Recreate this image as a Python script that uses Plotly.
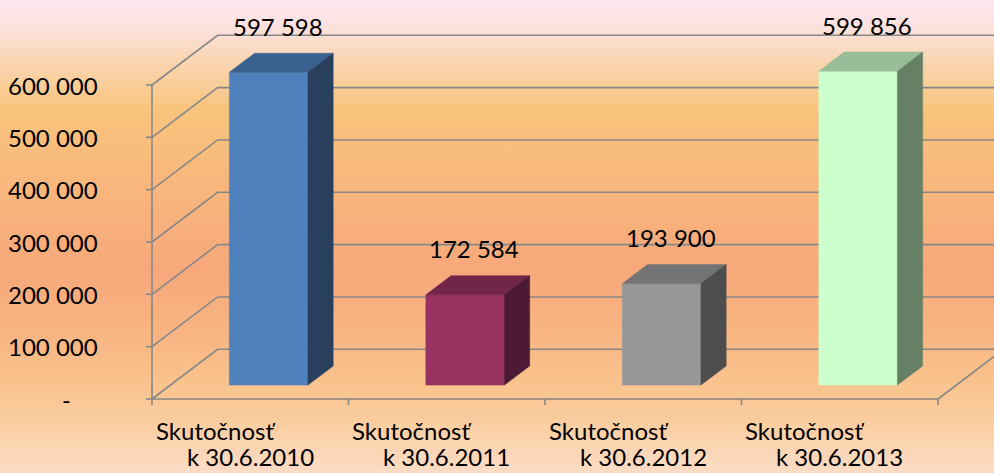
import plotly.graph_objects as go

# ---------------- data ----------------
categories_line1 = ["Skutočnosť", "Skutočnosť", "Skutočnosť", "Skutočnosť"]
categories_line2 = ["k 30.6.2010", "k 30.6.2011", "k 30.6.2012", "k 30.6.2013"]
values = [597598, 172584, 193900, 599856]
value_labels = ["597 598", "172 584", "193 900", "599 856"]
y_tick_vals = [0, 100000, 200000, 300000, 400000, 500000, 600000]
y_tick_text = ["-", "100 000", "200 000", "300 000", "400 000", "500 000", "600 000"]

front_colors = ["#4F81BD", "#983361", "#979797", "#CCFFCC"]
top_colors = ["#3B6190", "#72254A", "#737373", "#99BD99"]
side_colors = ["#283F5E", "#4D1A33", "#4D4D4D", "#668066"]

# ---------------- geometry (pixel calibration of the pseudo-3D scale) ----------------
W, H = 994, 473
PX_CAT = 196.5           # pixels per category
X0_PX = 152              # pixel of category boundary -0.5
Y0_PX = 399              # pixel of value 0 on front plane
K = 314 / 600000         # pixels per value unit
DX = 65.6 / PX_CAT       # depth shift (categories)
DY = 49.7 / K            # depth shift (value units)
D0, D1 = 0.28, 0.665     # bar depth span
HALF = 0.2               # half bar width in categories

x_range = [-0.5 - X0_PX / PX_CAT, -0.5 + (W - X0_PX) / PX_CAT]
y_range = [-(H - Y0_PX) / K, Y0_PX / K]


def proj(x, v, d):
    return x + d * DX, v + d * DY


FONT = "Lato, 'Open Sans', sans-serif"
FS = 24
fig = go.Figure()

# background gradient
bg_scale = [
    [0.0, "#FCDCC6"], [0.112, "#FACD9E"], [0.197, "#F9C28C"], [0.302, "#F8B482"],
    [0.429, "#F7A87B"], [0.577, "#F8B47C"], [0.767, "#F8C47C"], [0.873, "#FAD6B4"],
    [0.947, "#FCE2E0"], [1.0, "#FDE5F0"],
]
fig.add_trace(go.Scatter(
    x=[x_range[0], x_range[1], x_range[1], x_range[0], x_range[0]],
    y=[y_range[0], y_range[0], y_range[1], y_range[1], y_range[0]],
    mode="lines", line=dict(width=0), fill="toself",
    fillgradient=dict(type="vertical", colorscale=bg_scale),
    hoverinfo="skip", showlegend=False,
))

# grid lines: left wall diagonals + back wall horizontals
gx, gy = [], []
for v in y_tick_vals:
    a = proj(-0.5, v, 0)
    b = proj(-0.5, v, 1)
    c = proj(3.5, v, 1)
    gx += [a[0], b[0], c[0], None]
    gy += [a[1], b[1], c[1], None]
# front axis line (vertical), floor front edge and right floor edge
for p, q in [(proj(-0.5, 0, 0), proj(-0.5, y_tick_vals[-1], 0)),
             (proj(-0.5, 0, 0), proj(3.5, 0, 0)),
             (proj(3.5, 0, 0), proj(3.5, 0, 1))]:
    gx += [p[0], q[0], None]
    gy += [p[1], q[1], None]
# y tick marks (6 px to the left)
for v in y_tick_vals:
    gx += [-0.5 - 6 / PX_CAT, -0.5, None]
    gy += [v, v, None]
# x tick marks (6 px down)
for k in range(len(values) + 1):
    gx += [k - 0.5, k - 0.5, None]
    gy += [0, -6 / K, None]
fig.add_trace(go.Scatter(x=gx, y=gy, mode="lines",
                         line=dict(color="#878787", width=1.6),
                         hoverinfo="skip", showlegend=False))

# bars
for i, v in enumerate(values):
    faces = [
        ([proj(i - HALF, 0, D0), proj(i + HALF, 0, D0), proj(i + HALF, v, D0), proj(i - HALF, v, D0)], front_colors[i]),
        ([proj(i - HALF, v, D0), proj(i + HALF, v, D0), proj(i + HALF, v, D1), proj(i - HALF, v, D1)], top_colors[i]),
        ([proj(i + HALF, 0, D0), proj(i + HALF, 0, D1), proj(i + HALF, v, D1), proj(i + HALF, v, D0)], side_colors[i]),
    ]
    for pts, col in faces:
        xs = [p[0] for p in pts] + [pts[0][0]]
        ys = [p[1] for p in pts] + [pts[0][1]]
        fig.add_trace(go.Scatter(x=xs, y=ys, mode="lines", fill="toself",
                                 fillcolor=col, line=dict(color=col, width=0.5),
                                 hoverinfo="skip", showlegend=False))

annotations = []
# value labels (above the front top edge of each bar)
for i, v in enumerate(values):
    annotations.append(dict(x=i + 0.14, y=v + D0 * DY + 46 / K, text=value_labels[i],
                            showarrow=False, xanchor="center", yanchor="middle",
                            font=dict(family=FONT, size=FS, color="#000000")))
# y tick labels
for v, t in zip(y_tick_vals, y_tick_text):
    annotations.append(dict(x=-0.5 - 52 / PX_CAT - (27 / PX_CAT if v == 0 else 0), y=v,
                            text=t, showarrow=False, xanchor="right", yanchor="middle",
                            font=dict(family=FONT, size=FS, color="#000000")))
# category labels
for i in range(len(values)):
    annotations.append(dict(x=i - 35 / PX_CAT, y=-31 / K, text=categories_line1[i],
                            showarrow=False, xanchor="center", yanchor="middle",
                            font=dict(family=FONT, size=FS, color="#000000")))
    annotations.append(dict(x=i, y=-57 / K, text=categories_line2[i], borderpad=0,
                            showarrow=False, xanchor="center", yanchor="middle",
                            font=dict(family=FONT, size=FS, color="#000000")))

fig.update_layout(
    width=W, height=H,
    margin=dict(l=0, r=0, t=0, b=0),
    paper_bgcolor="#F9C28C", plot_bgcolor="#F9C28C",
    xaxis=dict(range=x_range, visible=False, fixedrange=True),
    yaxis=dict(range=y_range, visible=False, fixedrange=True),
    annotations=annotations,
    showlegend=False,
)

fig.write_html(
    "out.html",
    config={"displayModeBar": False},
    post_script="document.body.style.margin='0';document.body.style.padding='0';"
                "document.body.style.overflow='hidden';",
)
